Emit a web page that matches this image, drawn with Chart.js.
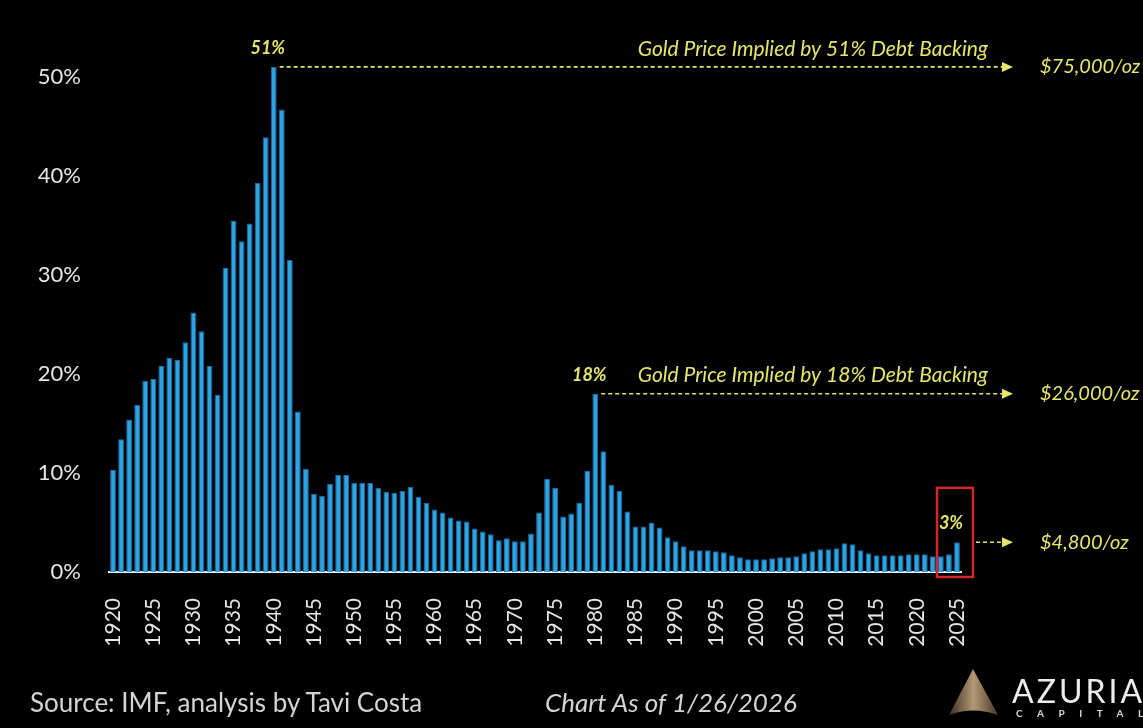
<!DOCTYPE html>
<html>
<head>
<meta charset="utf-8">
<title>Gold Backing of Global Debt</title>
<script src="https://cdn.jsdelivr.net/npm/chart.js@4.4.1/dist/chart.umd.min.js"></script>
<style>
  html, body { margin: 0; padding: 0; background: #000; }
  body { width: 1143px; height: 728px; position: relative; overflow: hidden; font-family: Lato, "Open Sans", sans-serif; }
  #chart { position: absolute; left: 0; top: 0; }
  .note { position: absolute; color: #d4d4d4; font-size: 26px; white-space: nowrap; }
  .source { left: 30px; top: 686px; }
  .asof { left: 545px; top: 686px; font-style: italic; }
  .logo { position: absolute; left: 946px; top: 666px; }
  .brand { position: absolute; left: 1012px; top: 671px; color: #ececec; font-size: 32px; letter-spacing: 3px; }
  .brand-sub { position: absolute; left: 1016px; top: 707px; color: #d8d8d8; font-size: 10px; font-weight: bold; letter-spacing: 14.5px; }
</style>
</head>
<body>
<canvas id="chart" width="1143" height="728"></canvas>

<div class="note source">Source: IMF, analysis by Tavi Costa</div>
<div class="note asof">Chart As of 1/26/2026</div>

<svg class="logo" width="56" height="52" viewBox="0 0 56 52">
  <defs>
    <linearGradient id="gold" x1="0" y1="0" x2="1" y2="0">
      <stop offset="0" stop-color="#3a2e22"/>
      <stop offset="0.5" stop-color="#b39874"/>
      <stop offset="1" stop-color="#4a3a2a"/>
    </linearGradient>
  </defs>
  <path d="M27 3 L52 49 Q27 40 3 49 Z" fill="url(#gold)"/>
</svg>
<div class="brand">AZURIA</div>
<div class="brand-sub">CAPITAL</div>

<script>
// years on the x axis, one bar per year
const years = Array.from({ length: 106 }, (_, i) => 1920 + i);

// value of gold reserves as a share of government debt (%)
const goldShare = [
  10.3, 13.4, 15.4, 16.9, 19.3, 19.5, 20.8, 21.6, 21.4, 23.2,   // 1920s
  26.2, 24.3, 20.8, 17.9, 30.7, 35.5, 33.4, 35.2, 39.3, 43.9,   // 1930s
  51.0, 46.7, 31.5, 16.2, 10.4, 7.9, 7.7, 8.9, 9.8, 9.8,        // 1940s
  9.0, 9.0, 9.0, 8.5, 8.1, 8.0, 8.2, 8.6, 7.6, 7.0,             // 1950s
  6.3, 6.0, 5.5, 5.2, 5.1, 4.4, 4.1, 3.8, 3.2, 3.4,             // 1960s
  3.1, 3.1, 3.9, 6.0, 9.4, 8.5, 5.6, 5.9, 7.0, 10.2,            // 1970s
  18.0, 12.2, 8.8, 8.2, 6.1, 4.6, 4.6, 5.0, 4.5, 3.5,           // 1980s
  3.1, 2.6, 2.2, 2.2, 2.2, 2.1, 2.0, 1.7, 1.5, 1.3,             // 1990s
  1.3, 1.3, 1.4, 1.5, 1.5, 1.6, 1.9, 2.1, 2.3, 2.3,             // 2000s
  2.4, 2.9, 2.8, 2.2, 1.9, 1.7, 1.7, 1.7, 1.7, 1.8,             // 2010s
  1.8, 1.8, 1.6, 1.6, 1.8, 3.0                                  // 2020s
];

const yTicks = [0, 10, 20, 30, 40, 50];

// callouts: year, share label, heading, implied gold price
const calloutYears = [1940, 1980, 2025];
const calloutShares = ['51%', '18%', '3%'];
const calloutHeadings = ['Gold Price Implied by 51% Debt Backing', 'Gold Price Implied by 18% Debt Backing', ''];
const impliedPrices = ['$75,000/oz', '$26,000/oz', '$4,800/oz'];

// the highlighted recent years
const boxFrom = 2023;
const boxTo = 2025;
const boxTopValue = 8.5;

const YELLOW = '#e6e66a';

const calloutPlugin = {
    id: 'callouts',
    afterDraw(chart) {
        const ctx = chart.ctx;
        const yScale = chart.scales.y;
        const bars = chart.getDatasetMeta(0).data;
        const arrowX = 1002;

        // red frame round the latest bars
        const first = bars[years.indexOf(boxFrom)];
        const last = bars[years.indexOf(boxTo)];
        const boxLeft = first.x - first.width / 2 - 1;
        const boxRight = last.x + 16;
        const boxTop = yScale.getPixelForValue(boxTopValue);
        const boxBottom = chart.chartArea.bottom + 5;
        ctx.save();
        ctx.strokeStyle = '#d6262a';
        ctx.lineWidth = 2.5;
        ctx.strokeRect(boxLeft, boxTop, boxRight - boxLeft, boxBottom - boxTop);
        ctx.restore();

        calloutYears.forEach((year, k) => {
            const bar = bars[years.indexOf(year)];
            const top = bar.y;
            const lineStart = k === 2 ? boxRight + 3 : bar.x + bar.width / 2 + 3;

            ctx.save();
            // dashed leader
            ctx.strokeStyle = YELLOW;
            ctx.lineWidth = 1.6;
            ctx.setLineDash([4, 3]);
            ctx.beginPath();
            ctx.moveTo(lineStart, top);
            ctx.lineTo(arrowX, top);
            ctx.stroke();
            ctx.setLineDash([]);

            // arrow head
            ctx.fillStyle = YELLOW;
            ctx.beginPath();
            ctx.moveTo(arrowX, top - 5);
            ctx.lineTo(arrowX + 11, top);
            ctx.lineTo(arrowX, top + 5);
            ctx.closePath();
            ctx.fill();

            // share above the bar
            ctx.font = 'italic bold 18px Lato';
            ctx.textAlign = 'center';
            ctx.textBaseline = 'middle';
            ctx.fillText(calloutShares[k], bar.x - 6, top - 19);

            // implied price at the right
            ctx.font = 'italic 20px Lato';
            ctx.textAlign = 'left';
            ctx.fillText(impliedPrices[k], 1040, top);

            // heading above the leader
            if (calloutHeadings[k]) {
                ctx.font = 'italic 21px Lato';
                ctx.textAlign = 'right';
                ctx.fillText(calloutHeadings[k], 988, top - 18);
            }
            ctx.restore();
        });
    }
};

new Chart(document.getElementById('chart'), {
    type: 'bar',
    data: {
        labels: years,
        datasets: [{
            data: goldShare,
            backgroundColor: '#2ca4e0',
            borderColor: '#1c6aa8',
            borderWidth: 1,
            borderSkipped: 'bottom',
            barPercentage: 0.72,
            categoryPercentage: 1.0
        }]
    },
    options: {
        responsive: false,
        animation: false,
        layout: { padding: { left: 0, top: 57, right: 182, bottom: 0 } },
        plugins: {
            legend: { display: false },
            tooltip: { enabled: false }
        },
        scales: {
            x: {
                grid: { display: false, drawTicks: false },
                border: { display: true, color: '#e2f2ff', width: 2 },
                ticks: {
                    autoSkip: false,
                    minRotation: 90,
                    maxRotation: 90,
                    padding: 26,
                    color: '#e6e6e6',
                    font: { family: 'Lato', size: 21 },
                    callback: (v, i) => (years[i] % 5 === 0 ? String(years[i]) : '')
                },
                afterFit: (scale) => { scale.height = 156; }
            },
            y: {
                min: 0,
                max: 52,
                grid: { display: false, drawTicks: false },
                border: { display: false },
                afterBuildTicks: (scale) => { scale.ticks = yTicks.map(v => ({ value: v })); },
                ticks: {
                    padding: 28,
                    color: '#e6e6e6',
                    font: { family: 'Lato', size: 22 },
                    callback: (v) => v + '%'
                },
                afterFit: (scale) => { scale.width = 109; }
            }
        }
    },
    plugins: [calloutPlugin]
});
</script>
</body>
</html>
